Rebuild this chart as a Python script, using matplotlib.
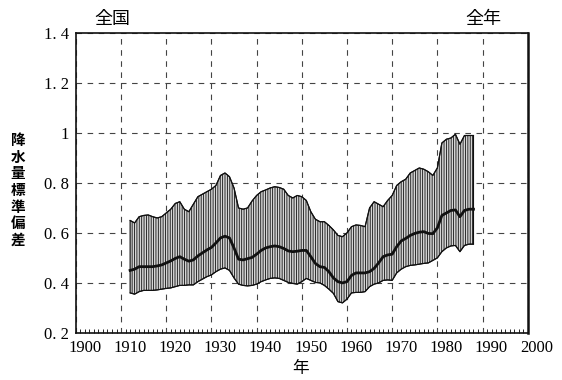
import numpy as np
import matplotlib
matplotlib.use('Agg')
import matplotlib.pyplot as plt
import matplotlib.transforms as mtransforms

# values (national, whole year)
years = list(range(1912, 1989))
upper = [0.65, 0.64, 0.665, 0.67, 0.672, 0.665, 0.66, 0.665, 0.68, 0.695,
         0.718, 0.725, 0.695, 0.685, 0.715, 0.745, 0.755, 0.765, 0.775, 0.79,
         0.83, 0.84, 0.825, 0.78, 0.70, 0.695, 0.70, 0.728, 0.75, 0.765,
         0.772, 0.78, 0.785, 0.782, 0.775, 0.75, 0.74, 0.75, 0.745, 0.73,
         0.685, 0.655, 0.645, 0.645, 0.63, 0.612, 0.59, 0.585, 0.60, 0.625,
         0.632, 0.63, 0.625, 0.70, 0.725, 0.715, 0.705, 0.73, 0.75, 0.79,
         0.805, 0.815, 0.84, 0.85, 0.86, 0.855, 0.845, 0.83, 0.86, 0.96,
         0.975, 0.98, 0.995, 0.955, 0.99, 0.99, 0.99]
mean = [0.45, 0.455, 0.465, 0.465, 0.465, 0.465, 0.468, 0.472, 0.48, 0.488,
        0.498, 0.505, 0.495, 0.487, 0.492, 0.508, 0.52, 0.532, 0.542, 0.56,
        0.58, 0.587, 0.58, 0.54, 0.495, 0.492, 0.497, 0.502, 0.515, 0.53,
        0.54, 0.545, 0.548, 0.545, 0.538, 0.528, 0.525, 0.527, 0.53, 0.53,
        0.505, 0.478, 0.465, 0.462, 0.445, 0.42, 0.405, 0.40, 0.405, 0.43,
        0.44, 0.44, 0.44, 0.445, 0.458, 0.48, 0.505, 0.512, 0.515, 0.545,
        0.568, 0.578, 0.59, 0.598, 0.603, 0.605, 0.598, 0.597, 0.62, 0.67,
        0.68, 0.69, 0.692, 0.665, 0.69, 0.695, 0.695]
lower = [0.36, 0.355, 0.365, 0.37, 0.37, 0.37, 0.372, 0.375, 0.378, 0.38,
         0.385, 0.39, 0.39, 0.392, 0.392, 0.405, 0.415, 0.425, 0.432, 0.445,
         0.455, 0.46, 0.45, 0.42, 0.395, 0.39, 0.388, 0.39, 0.395, 0.405,
         0.412, 0.418, 0.42, 0.418, 0.41, 0.402, 0.398, 0.395, 0.405, 0.418,
         0.41, 0.402, 0.40, 0.39, 0.375, 0.358, 0.325, 0.32, 0.335, 0.36,
         0.362, 0.362, 0.365, 0.385, 0.395, 0.40, 0.41, 0.412, 0.41, 0.44,
         0.455, 0.465, 0.47, 0.472, 0.475, 0.478, 0.48, 0.49, 0.50, 0.525,
         0.54, 0.548, 0.55, 0.525, 0.55, 0.555, 0.555]

xticks = [1900, 1910, 1920, 1930, 1940, 1950, 1960, 1970, 1980, 1990, 2000]
yticks = [0.2, 0.4, 0.6, 0.8, 1.0, 1.2, 1.4]
ylabels = ['0. 2', '0. 4', '0. 6', '0. 8', '1', '1. 2', '1. 4']

plt.rcParams['hatch.linewidth'] = 0.6
jp = ['Noto Sans CJK JP', 'DejaVu Sans']
serif = 'Liberation Serif'

fig = plt.figure(figsize=(5.62, 3.8), dpi=100)
ax = fig.add_axes([0.135, 0.124, 0.804, 0.789])

ax.fill_between(years, lower, upper, facecolor='#d4d4d4', edgecolor='#111111',
                hatch='|' * 7, linewidth=0.8, zorder=2)
ax.plot(years, upper, color='#111111', lw=0.8, zorder=3)
ax.plot(years, lower, color='#111111', lw=0.8, zorder=3)
ax.plot(years, mean, color='#111111', lw=2.0, zorder=4)

ax.set_xlim(1900, 2000)
ax.set_ylim(0.2, 1.4)
ax.set_xticks(xticks)
ax.set_xticklabels([str(t) for t in xticks], fontfamily=serif, fontsize=12)
ax.set_yticks(yticks)
ax.set_yticklabels(ylabels, fontfamily=serif, fontsize=12)
ax.set_xticks(np.arange(1900, 2001, 1), minor=True)
ax.tick_params(axis='both', which='major', length=0, pad=5)
ax.tick_params(axis='x', which='minor', direction='in', length=3, width=0.6)
ax.tick_params(axis='y', which='minor', length=0)

# tick labels sit a little right of their grid lines in the original
off = mtransforms.ScaledTranslation(9 / 100, 0, fig.dpi_scale_trans)
for lab in ax.get_xticklabels():
    lab.set_transform(lab.get_transform() + off)

ax.grid(True, which='major', color='#444444', lw=0.8, linestyle=(0, (5, 5)))
ax.set_axisbelow(True)
for s in ax.spines.values():
    s.set_color('#111111')
    s.set_linewidth(1.2)
ax.spines['right'].set_linewidth(1.8)

fig.text(0.200, 0.950, '全国', family=jp, fontsize=13, ha='center', va='center')
fig.text(0.860, 0.950, '全年', family=jp, fontsize=13, ha='center', va='center')
fig.text(0.032, 0.50, '\n'.join('降水量標準偏差'), family=jp, fontsize=10.5,
         fontweight='bold', ha='center', va='center', linespacing=1.05)
fig.text(0.535, 0.03, '年', family=jp, fontsize=12, ha='center', va='center')

fig.savefig('out.png', dpi=100)
